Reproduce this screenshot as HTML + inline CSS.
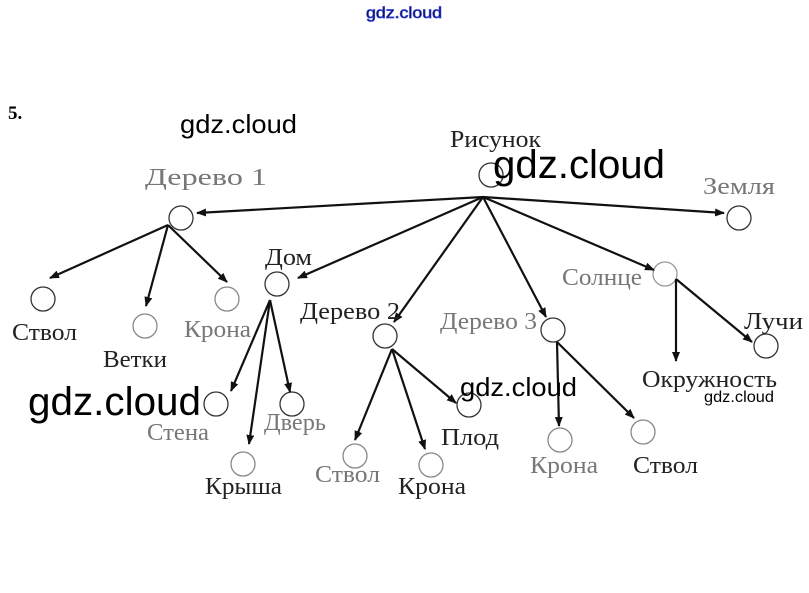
<!DOCTYPE html>
<html><head><meta charset="utf-8"><style>
body{margin:0;background:#fff;width:809px;height:593px;overflow:hidden}
svg{display:block}
.l{font-family:"Liberation Serif",serif;font-size:24px;fill:#222}
.g{fill:#777}
.w{font-family:"Liberation Sans",sans-serif;fill:#000}
</style></head><body>
<svg width="809" height="593" viewBox="0 0 809 593">
<defs>
<marker id="a" markerWidth="10" markerHeight="8" refX="9" refY="4" orient="auto" markerUnits="userSpaceOnUse"><path d="M0,0 L10,4 L0,8 z" fill="#111"/></marker>
</defs>
<g fill="none" stroke="#333" stroke-width="1.3">
<circle cx="491" cy="175" r="12"/><circle cx="181" cy="218" r="12"/><circle cx="739" cy="218" r="12"/>
<circle cx="277" cy="284" r="12"/><circle cx="385" cy="336" r="12"/><circle cx="553" cy="330" r="12"/>
<circle cx="665" cy="274" r="12" stroke="#999"/><circle cx="766" cy="346" r="12"/>
<circle cx="43" cy="299" r="12"/><circle cx="145" cy="326" r="12" stroke="#888"/><circle cx="227" cy="299" r="12" stroke="#888"/>
<circle cx="216" cy="404" r="12"/><circle cx="292" cy="404" r="12"/><circle cx="243" cy="464" r="12" stroke="#888"/>
<circle cx="355" cy="456" r="12" stroke="#888"/><circle cx="431" cy="465" r="12" stroke="#888"/><circle cx="469" cy="405" r="12"/>
<circle cx="560" cy="440" r="12" stroke="#888"/><circle cx="643" cy="432" r="12" stroke="#888"/>
</g>
<g stroke="#111" stroke-width="2.2" fill="none" marker-end="url(#a)">
<line x1="483" y1="197" x2="197" y2="213"/>
<line x1="483" y1="197" x2="724" y2="213"/>
<line x1="483" y1="197" x2="298" y2="278"/>
<line x1="483" y1="197" x2="394" y2="322"/>
<line x1="483" y1="197" x2="546" y2="317"/>
<line x1="483" y1="197" x2="654" y2="270"/>
<line x1="168" y1="225" x2="50" y2="278"/>
<line x1="168" y1="225" x2="146" y2="306"/>
<line x1="168" y1="225" x2="227" y2="282"/>
<line x1="270" y1="300" x2="231" y2="391"/>
<line x1="270" y1="300" x2="249" y2="444"/>
<line x1="270" y1="300" x2="290" y2="392"/>
<line x1="392" y1="349" x2="355" y2="440"/>
<line x1="392" y1="349" x2="425" y2="449"/>
<line x1="392" y1="349" x2="456" y2="403"/>
<line x1="557" y1="342" x2="559" y2="426"/>
<line x1="557" y1="342" x2="634" y2="418"/>
<line x1="676" y1="279" x2="676" y2="361"/>
<line x1="676" y1="279" x2="752" y2="342"/>
</g>
<g class="l">
<text x="450" y="147" textLength="91" lengthAdjust="spacingAndGlyphs">Рисунок</text>
<text x="145" y="185" class="g" textLength="122" lengthAdjust="spacingAndGlyphs">Дерево 1</text>
<text x="703" y="194" class="g" textLength="72" lengthAdjust="spacingAndGlyphs">Земля</text>
<text x="265" y="265" textLength="47" lengthAdjust="spacingAndGlyphs">Дом</text>
<text x="300" y="319" textLength="100" lengthAdjust="spacingAndGlyphs">Дерево 2</text>
<text x="440" y="329" class="g" textLength="97" lengthAdjust="spacingAndGlyphs">Дерево 3</text>
<text x="562" y="285" class="g" textLength="80" lengthAdjust="spacingAndGlyphs">Солнце</text>
<text x="744" y="329" textLength="59" lengthAdjust="spacingAndGlyphs">Лучи</text>
<text x="642" y="387" textLength="135" lengthAdjust="spacingAndGlyphs">Окружность</text>
<text x="12" y="340" textLength="65" lengthAdjust="spacingAndGlyphs">Ствол</text>
<text x="103" y="367" textLength="64" lengthAdjust="spacingAndGlyphs">Ветки</text>
<text x="184" y="337" class="g" textLength="67" lengthAdjust="spacingAndGlyphs">Крона</text>
<text x="147" y="440" class="g" textLength="62" lengthAdjust="spacingAndGlyphs">Стена</text>
<text x="264" y="430" class="g" textLength="62" lengthAdjust="spacingAndGlyphs">Дверь</text>
<text x="205" y="494" textLength="77" lengthAdjust="spacingAndGlyphs">Крыша</text>
<text x="315" y="482" class="g" textLength="65" lengthAdjust="spacingAndGlyphs">Ствол</text>
<text x="398" y="494" textLength="68" lengthAdjust="spacingAndGlyphs">Крона</text>
<text x="441" y="445" textLength="58" lengthAdjust="spacingAndGlyphs">Плод</text>
<text x="530" y="473" class="g" textLength="68" lengthAdjust="spacingAndGlyphs">Крона</text>
<text x="633" y="473" textLength="65" lengthAdjust="spacingAndGlyphs">Ствол</text>
</g>
<text x="8" y="119" font-family="Liberation Serif,serif" font-weight="bold" font-size="19">5.</text>
<text x="366" y="18" class="w" font-size="16" fill="#fff" stroke="#3344dd" stroke-width="0.8" textLength="76" lengthAdjust="spacingAndGlyphs">gdz.cloud</text>
<text x="180" y="133" class="w" font-size="26" textLength="117" lengthAdjust="spacingAndGlyphs">gdz.cloud</text>
<text x="493" y="178" class="w" font-size="40" textLength="172" lengthAdjust="spacingAndGlyphs">gdz.cloud</text>
<text x="28" y="415" class="w" font-size="40" textLength="173" lengthAdjust="spacingAndGlyphs">gdz.cloud</text>
<text x="460" y="396" class="w" font-size="26" textLength="117" lengthAdjust="spacingAndGlyphs">gdz.cloud</text>
<text x="704" y="402" class="w" font-size="16" textLength="70" lengthAdjust="spacingAndGlyphs">gdz.cloud</text>
</svg>
</body></html>
